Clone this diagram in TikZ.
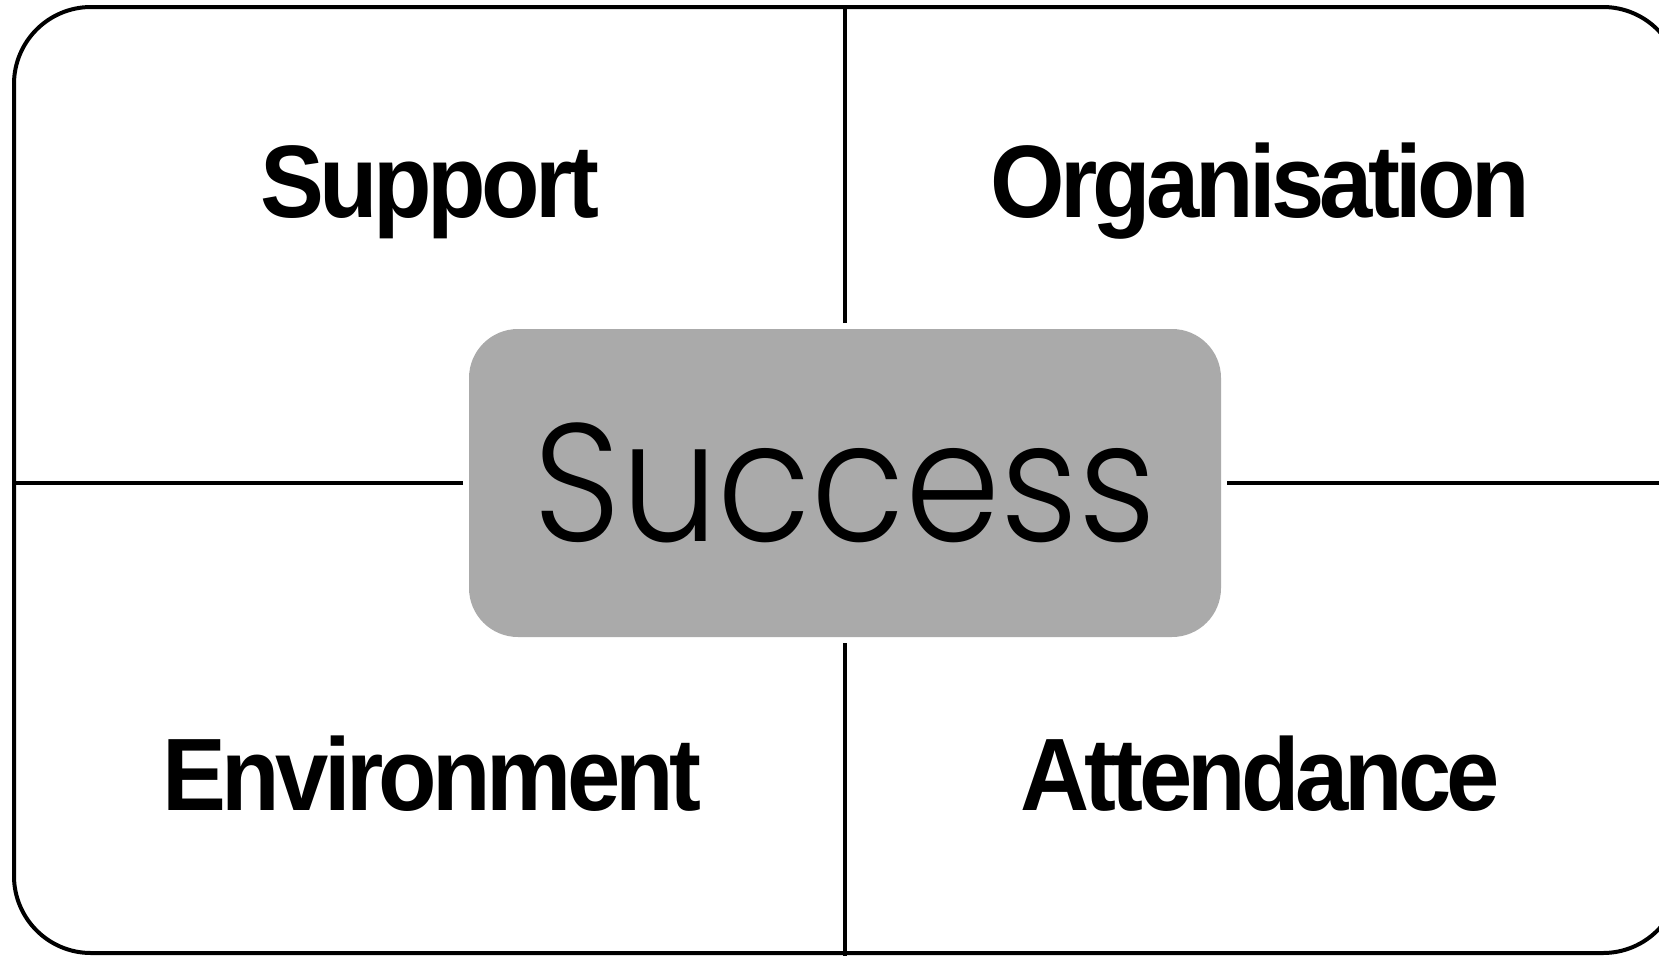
\documentclass[tikz,border=0pt]{standalone}
\usepackage{fontspec}
\setmainfont{Liberation Sans}
\newfontfamily\gothic{Poppins Light}[FakeStretch=0.91]
\usetikzlibrary{positioning}
\definecolor{hubgray}{HTML}{AAAAAA}

\begin{document}
\begin{tikzpicture}[x=1pt,y=-1pt,on grid,
  hub/.style={fill=hubgray,rounded corners=49pt,minimum width=752pt,
    minimum height=308pt,outer sep=6pt,
    font=\gothic\fontsize{168}{168}\selectfont},
  quad/.style={font=\bfseries\addfontfeature{FakeStretch=0.93,LetterSpace=-4.5}\fontsize{103}{110}\selectfont,
    text height=74pt,text depth=0pt,inner sep=0pt},
  rule/.style={line width=4pt}]
  \useasboundingbox (0,0) rectangle (1659,956);
  \draw[rule,rounded corners=77pt] (14,7) rectangle (1680,953);
  \coordinate (ftop) at (845,7);
  \coordinate (fbot) at (845,956);
  \coordinate (fleft) at (14,483);
  \coordinate (fright) at (1680,483);
  \node[hub] (succ) at (845,483) {Success};
  \node[quad] (supp) [above left=303pt and 415pt of succ] {Support};
  \node[quad] (orga) [above right=303pt and 415pt of succ] {Organisation};
  \node[quad] (envi) [below left=290pt and 413pt of succ] {Environment};
  \node[quad] (atte) [below right=290pt and 415pt of succ] {Attendance};
  \draw[rule]
  (succ.north) -- (succ.north |- ftop)
  (succ.south) -- (succ.south |- fbot)
  (succ.west) -- (succ.west -| fleft)
  (succ.east) -- (succ.east -| fright)
  ;
\end{tikzpicture}
\end{document}
